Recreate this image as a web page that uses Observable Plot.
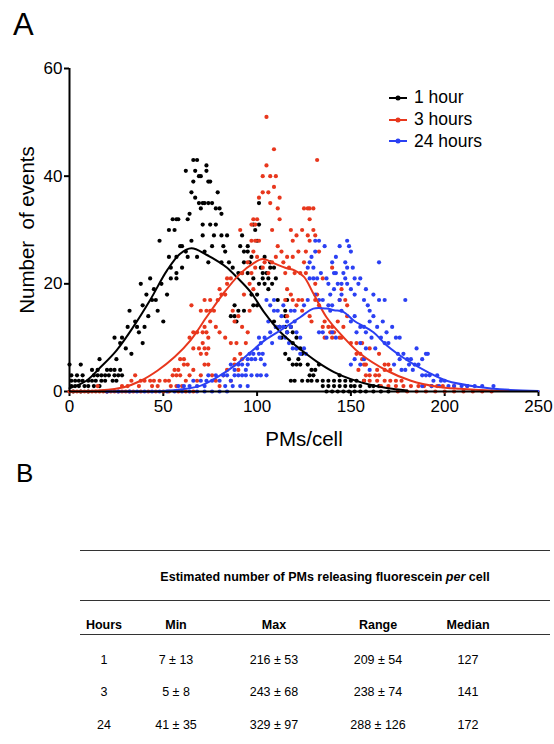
<!DOCTYPE html>
<html><head><meta charset="utf-8">
<script src="https://cdn.jsdelivr.net/npm/d3@7"></script>
<script src="https://cdn.jsdelivr.net/npm/@observablehq/plot@0.6"></script>
<style>
body{margin:0;background:#fff;}
#wrap{position:relative;width:554px;height:744px;font-family:"Liberation Sans",Arial,Helvetica,sans-serif;color:#000;overflow:hidden;background:#fff;}
.t{position:absolute;white-space:pre;line-height:1.117;}
.c{transform:translateX(-50%);}
.rule{position:absolute;height:0;border-top:1.5px solid #333;}
#wrap svg [aria-label="x-axis label"], #wrap svg [aria-label="y-axis label"]{font-size:20.5px;}
</style></head><body><div id="wrap"></div>
<script>
// ---------- data ----------
const seriesNames = ["1 hour", "3 hours", "24 hours"];
const seriesColors = ["#000000", "#e8371d", "#2b40f3"];
const xTicks = [0, 50, 100, 150, 200, 250];
const yTicks = [0, 20, 40, 60];

const hour1Points = [
[0,5],[6,5],
[1,3],[4,3],[7,3],[13,3],[15,3],[17,3],[19,3],[21,3],[24,3],[26,3],[28,3],
[12,4],[15,4],[20,4],[22,4],[24,4],[27,4],
[1,2],[3,2],[5,2],[7,2],[10,2],[12,2],[14,2],[17,2],[19,2],[23,2],[25,2],
[1,1],[3,1],[5,1],[8,1],[10,1],[13,1],[16,1],
[2,0],[6,0],[10,0],[20,0],
[16,6],[25,6],
[24,10],[28,10],[27,9],[30,8],[33,7],[32,15],[31,12],[36,12],[37,11],[39,9],[40,12],[38,20],[41,18],[43,21],[44,17],[46,17],[47,15],[50,13],[52,18],[54,21],[57,21],[57,22],[60,23],[48,28],[53,25],[57,25],[53,30],[55,32],[58,32],[56,30],[59,27],[60,27],[54,23],[45,19],[42,14],[35,13],[49,20],[39,16],
[66,43],[68,43],[62,41],[67,41],[73,42],[73,41],[69,40],[70,40],[66,39],[74,39],[75,39],[65,37],[79,37],[67,36],[69,35],[71,35],[72,35],[74,35],[76,35],[70,34],[78,34],[80,34],[64,33],[81,33],[57,32],[63,32],[75,31],[78,31],[65,28],[71,29],[77,29],[81,29],[84,29],[71,31],[76,27],[82,27],[83,26],[72,26],[62,26],[63,25],[68,25],[74,24],[81,24],[85,24],[87,23],[90,22],[92,22],[95,22],[98,21],[97,18],[100,18],[98,16],[100,16],[88,16],[90,15],[86,14],[88,14],[89,13],[93,15],
[101,35],[98,31],[101,31],[99,30],[92,29],[93,26],[95,26],[97,25],[104,25],[93,24],[96,24],[107,24],[107,23],[95,27],[91,27],[100,28],
[103,22],[105,22],[103,21],[106,21],[108,20],[104,20],[106,19],[102,23],[109,23],[110,21],[101,20],
[111,17],[116,17],[115,15],[115,14],[112,12],[115,12],[118,12],[116,11],[119,11],[113,10],[121,10],[110,12],[109,13],
[119,9],[121,8],[123,8],[124,7],[122,6],[117,6],[115,7],[119,5],[121,5],[123,5],[127,5],[129,4],[131,4],[133,5],[130,3],[128,3],
[120,2],[124,2],[127,2],[129,2],[132,2],[135,2],[138,2],[141,2],[144,2],[118,2],
[135,1],[138,1],[141,1],[144,1],[147,1],[150,1],[152,1],[155,1],[160,1],[165,1],
[137,0],[140,0],[143,0],[146,0],[149,0],[152,0],[155,0],[158,0],[162,0],[166,0],[170,0],
[144,3],[147,2],[150,2],[153,2],[157,2],[162,1]
];

const hour3Points = [
[0,0],[2,0],[4,0],[6,0],[8,0],[10,0],[12,0],[14,0],[16,0],[18,0],[20,0],[22,0],[24,0],[26,0],[28,0],[30,0],[32,0],[34,0],[38,0],[42,0],[46,0],[50,0],
[15,1],[28,1],[31,1],[33,2],[37,1],[38,2],[35,3],[40,2],[43,2],[45,2],[48,2],[51,2],[44,1],[47,1],[54,1],[57,1],[60,1],[53,2],[55,3],[57,3],[59,3],[56,4],[58,4],[61,5],[63,5],[59,6],[61,6],[53,0],[58,0],[62,0],[66,0],
[62,2],[64,3],[66,4],[68,2],[70,3],[72,5],[74,5],[76,3],[78,2],[80,1],[82,3],[84,4],[86,2],[88,5],[90,4],[92,6],
[65,16],[64,10],[66,11],[68,11],[71,11],[73,11],[74,10],[66,8],[69,8],[72,8],[74,8],[70,7],[73,7],[71,9],[73,15],[75,15],[70,15],[77,15],[72,17],[75,17],[72,12],[75,13],[78,12],[80,11],[83,10],[86,9],[79,17],[81,18],[83,18],[80,19],[84,20],[86,21],[84,21],[87,15],[88,13],[90,14],[92,12],[89,9],[91,7],[88,6],[94,9],[95,11],[96,15],[93,18],[96,20],[98,19],[92,22],[97,22],[99,23],[95,24],[98,26],[100,25],[101,28],[97,28],[99,28],[91,30],[97,31],[99,31],[98,32],[100,32],[101,36],[103,37],[106,37],[103,40],[107,40],[110,40],[109,38],[107,35],[111,34],[112,32],[108,30],[105,42],[105,51],[109,45],[112,36],[111,27],[113,26],
[104,24],[108,24],[110,25],[103,23],[106,22],[115,22],[114,24],[117,23],[116,25],[119,25],[120,22],[123,22],[125,24],[126,22],
[118,30],[119,28],[121,29],[124,30],[127,29],[130,30],[125,34],[127,34],[128,34],[130,34],[132,43],[128,32],[131,29],[128,28],[133,26],[126,26],[122,26],
[116,19],[118,18],[119,17],[115,17],[131,20],[132,18],[131,17],[122,17],[124,17],[116,14],[121,16],[124,15],[128,14],[129,13],[133,16],[135,21],[140,23],
[136,13],[135,12],[138,12],[140,12],[141,11],[139,11],[136,10],[144,10],[145,10],[140,10],[143,13],[146,12],[144,17],[147,17],[148,16],[145,19],[148,14],
[150,9],[153,9],[156,9],[155,7],[156,6],[158,5],[157,5],[154,4],[160,8],[165,7],[168,5],[170,5],[171,4],[164,4],[168,4],[153,7],
[158,3],[160,3],[163,3],[165,3],[157,2],[160,2],[164,2],[168,2],[171,2],[174,2],[177,2],
[166,1],[170,1],[174,1],[178,1],[182,1],[186,1],[189,1],[193,1],[196,1],[199,1],[205,1],[212,1],
[175,0],[180,0],[185,0],[190,0],[195,0],[200,0],[205,0],[210,0],[215,0],[220,0],[225,0]
];

const hour24Points = [
[20,0],[26,0],[32,0],[36,0],[40,0],[44,0],[48,0],[52,0],[56,0],[60,0],[64,0],[68,0],[72,0],[76,0],[80,0],[84,0],
[58,1],[61,1],[64,1],[66,2],[68,1],[70,2],[72,1],[74,3],[73,2],[76,2],[78,3],[80,2],[82,3],[84,3],[86,2],[88,3],[90,3],[92,3],[94,3],[97,3],[100,3],[102,3],[105,3],[83,1],[87,1],[91,1],[95,1],
[86,5],[88,4],[90,5],[92,5],[94,4],[95,6],[97,6],[99,6],[102,6],[96,7],[98,7],[101,7],[103,7],[100,8],[102,9],[101,10],[104,10],[95,5],[104,5],
[105,17],[106,13],[107,11],[108,9],[107,16],[109,15],[111,15],[110,12],[112,12],[114,12],[116,11],[112,10],[115,10],[109,17],
[113,14],[116,13],[118,12],[120,13],[121,11],[123,10],[117,9],[119,8],[121,8],[123,7],[125,8],[126,7],[118,15],[120,15],[114,16],
[128,21],[130,21],[132,21],[134,22],[137,21],[138,20],[146,22],[147,21],[148,20],[142,22],[131,28],[133,28],[136,27],[148,28],[149,27],[147,24],[148,23],[129,25],[128,24],[131,26],[127,23],[130,23],
[131,18],[133,17],[135,17],[138,16],[140,16],[144,17],[145,18],[139,15],[145,15],[133,11],[135,11],[140,11],[142,10],[137,10],[125,16],[127,17],
[140,24],[141,22],[142,25],[144,27],[150,26],[151,23],[152,21],[143,20],[145,20],[150,19],[152,18],[141,19],[139,18],
[165,24],[155,21],[154,20],[157,17],[160,15],[165,17],[168,17],[179,17],[158,19],[162,18],[159,16],
[150,13],[152,14],[155,12],[157,12],[160,13],[162,14],[164,12],[167,13],[153,11],[158,11],[161,10],[166,10],[169,11],[172,12],[170,9],[174,10],[176,10],[168,9],[155,9],[158,8],[163,8],
[175,7],[178,7],[180,6],[182,6],[184,5],[186,5],[181,5],[177,4],[179,4],[183,4],[188,6],[190,7],[191,7],[185,8],[176,6],[173,5],
[188,3],[190,3],[192,3],[194,2],[196,3],[198,2],[200,2],[202,1],[205,1],[209,1],[212,1],[216,1],[220,1],[226,1],[188,1],[193,1],[197,1],
[150,5],[155,5],[160,4],[152,6],[157,6]
];

// fitted curves
const hour1FitX = [0,9,16.5,25,34,43,52,59,65,73,80,84,89,96.5,103.6,112.5,121.4,132,141,150,162,172,180];
const hour1FitY = [0.6,2,4.5,7.6,12,17,22.5,25.6,26.6,25.4,24,23,21.3,18.5,14.8,11,8.3,5.5,3.6,2.3,1.1,0.5,0.2];
const hour3FitX = [0,16,29,38,47,56,64.5,73,82,91,98,103,109,115,120,125,130,137,146,155,169,182,196,208,225,250];
const hour3FitY = [0,0.2,0.8,2,3.9,6.4,9.5,13.8,18.2,21.9,23.8,24.6,23.8,23,22.5,21.3,18.2,13.8,10.1,7,3.9,2,0.9,0.5,0.2,0.1];
const hour24FitX = [20,35,50,60,70,79,88,96.5,104,114,123,130,137,141,146,151.5,162,169,180,191,201,217,235,250];
const hour24FitY = [0,0,0.1,0.4,1.1,2.7,4.8,7.3,9.5,11.7,13.8,15.4,15.4,15.1,14.8,13.2,11,8.6,5.8,3.6,2,0.9,0.3,0.1];

// table (panel B)
const tableTitle = "Estimated number of PMs releasing fluorescein ";
const tableColumns = ["Hours", "Min", "Max", "Range", "Median"];
const tableHours = ["1", "3", "24"];
const tableMin = ["7 ± 13", "5 ± 8", "41 ± 35"];
const tableMax = ["216 ± 53", "243 ± 68", "329 ± 97"];
const tableRange = ["209 ± 54", "238 ± 74", "288 ± 126"];
const tableMedian = ["127", "141", "172"];

// ---------- build ----------
const seriesPoints = [hour1Points, hour3Points, hour24Points];
const fitXs = [hour1FitX, hour3FitX, hour24FitX];
const fitYs = [hour1FitY, hour3FitY, hour24FitY];
const pts = [];
seriesNames.forEach((s, i) => seriesPoints[i].forEach(([x, y]) => pts.push({series: s, x, y})));
const fits = [];
seriesNames.forEach((s, i) => fitXs[i].forEach((x, j) => fits.push({series: s, x, y: fitYs[i][j]})));

const wrap = document.getElementById("wrap");
const chart = Plot.plot({
  width: 554, height: 455,
  marginLeft: 69, marginRight: 16, marginTop: 68, marginBottom: 64,
  style: {fontFamily: '"Liberation Sans", Arial, Helvetica, sans-serif', fontSize: "17px", color: "#000", background: "white", overflow: "visible"},
  x: {domain: [0, 250]},
  y: {domain: [0, 60]},
  color: {domain: seriesNames, range: seriesColors},
  marks: [
    Plot.axisX({ticks: xTicks, tickSize: 5, tickPadding: 3, strokeWidth: 2, label: "PMs/cell", labelAnchor: "center", labelOffset: 54, labelArrow: "none"}),
    Plot.axisY({ticks: yTicks, tickSize: 5, tickPadding: 2, strokeWidth: 2, label: "Number\u00a0 of events", labelAnchor: "center", labelOffset: 50, labelArrow: "none"}),
    Plot.dot(pts, {x: "x", y: "y", fill: "series", r: 2.1}),
    Plot.line(fits, {x: "x", y: "y", stroke: "series", z: "series", strokeWidth: 2, curve: "catmull-rom"}),
    Plot.ruleX([0], {strokeWidth: 2}),
    Plot.ruleY([0], {strokeWidth: 2})
  ]
});
chart.style.position = "absolute";
chart.style.left = "0px";
chart.style.top = "0px";
wrap.appendChild(chart);

function addText(str, left, baseline, size, opts = {}) {
  const d = document.createElement("div");
  d.className = "t" + (opts.center ? " c" : "");
  d.style.left = left + "px";
  d.style.top = (baseline - 0.905 * size) + "px";
  d.style.fontSize = size + "px";
  if (opts.bold) d.style.fontWeight = "bold";
  if (opts.html) d.innerHTML = str; else d.textContent = str;
  wrap.appendChild(d);
  return d;
}
function addRule(x1, x2, y) {
  const r = document.createElement("div");
  r.className = "rule";
  r.style.left = x1 + "px";
  r.style.width = (x2 - x1) + "px";
  r.style.top = y + "px";
  wrap.appendChild(r);
}

// panel letters
addText("A", 13, 36, 31);
addText("B", 16, 483, 26);

// legend
seriesNames.forEach((s, i) => {
  const cy = 98 + i * 21.6;
  const sw = document.createElementNS("http://www.w3.org/2000/svg", "svg");
  sw.setAttribute("width", 20); sw.setAttribute("height", 10);
  sw.style.position = "absolute"; sw.style.left = "388px"; sw.style.top = (cy - 5) + "px";
  sw.innerHTML = `<line x1="1" x2="19" y1="5" y2="5" stroke="${seriesColors[i]}" stroke-width="2"/><circle cx="10" cy="5" r="2.5" fill="${seriesColors[i]}"/>`;
  wrap.appendChild(sw);
  addText(s, 414, cy + 6.3, 17.5);
});

// table
const colCenters = [104, 176, 274, 378, 468];
addRule(80, 550, 550);
addText(tableTitle + "<i>per</i> cell", 325, 582.5, 12.5, {center: true, bold: true, html: true});
addRule(80, 550, 600);
tableColumns.forEach((c, i) => addText(c, colCenters[i], 630.5, 12.5, {center: true, bold: true}));
addRule(80, 550, 634);
const cols = [tableHours, tableMin, tableMax, tableRange, tableMedian];
const rowBase = [665, 697, 730];
tableHours.forEach((_, r) => cols.forEach((col, i) => addText(col[r], colCenters[i], rowBase[r], 12.5, {center: true})));
</script></body></html>
